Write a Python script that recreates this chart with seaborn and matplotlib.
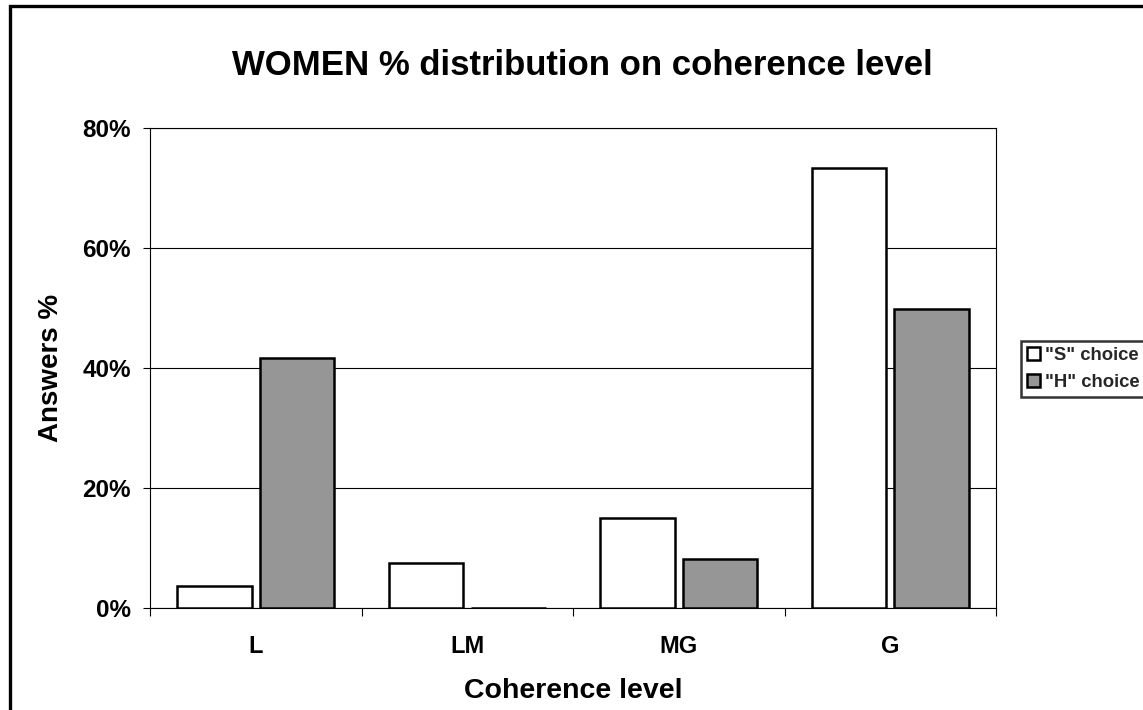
import matplotlib
matplotlib.use("Agg")
import matplotlib.pyplot as plt
from matplotlib.ticker import PercentFormatter, FixedLocator
from matplotlib.patches import Rectangle
import seaborn as sns
import pandas as pd

categories = ["L", "LM", "MG", "G"]
series_names = ['"S" choice', '"H" choice']
s_values = [3.7, 7.5, 15.0, 73.4]
h_values = [41.6, 0.0, 8.2, 49.8]
y_ticks = [0, 20, 40, 60, 80]

sns.set_theme(style="white")
plt.rcParams["font.family"] = ["Liberation Sans", "DejaVu Sans"]
plt.rcParams["font.weight"] = "bold"

df = pd.DataFrame({
    "level": categories * 2,
    "choice": [series_names[0]] * 4 + [series_names[1]] * 4,
    "value": s_values + h_values,
})

W, H = 1143, 710
fig = plt.figure(figsize=(W / 100, H / 100), dpi=100)
fig.patch.set_facecolor("white")
ax = fig.add_axes([150 / W, 1 - 608 / H, (996 - 150) / W, (608 - 128) / H])

sns.barplot(data=df, x="level", y="value", hue="choice", order=categories,
            hue_order=series_names,
            palette={series_names[0]: "white", series_names[1]: "#969696"},
            edgecolor="black", linewidth=1.8, width=0.78, gap=0.1,
            saturation=1, ax=ax, zorder=3)

ax.set_xlim(-0.5, 3.5)
ax.set_ylim(0, 80)
ax.yaxis.set_major_locator(FixedLocator(y_ticks))
ax.yaxis.set_major_formatter(PercentFormatter(100, decimals=0))
ax.grid(axis="y", color="black", linewidth=0.8, zorder=0)
ax.set_axisbelow(True)
for sp in ax.spines.values():
    sp.set_visible(True)
    sp.set_color("black")
    sp.set_linewidth(0.8)

ax.tick_params(axis="y", which="major", direction="out", length=5, width=0.8,
               pad=8.6, labelsize=17.5, colors="black", left=True)
ax.tick_params(axis="x", which="major", length=0, pad=19.5, labelsize=17,
               colors="black")
ax.set_xticks([-0.5, 0.5, 1.5, 2.5, 3.5], minor=True)
ax.tick_params(axis="x", which="minor", direction="out", length=5.8, width=0.8,
               bottom=True, color="black")
for lab in ax.get_xticklabels() + ax.get_yticklabels():
    lab.set_fontweight("bold")

ax.set_xlabel("Coherence level", fontsize=20.5, fontweight="bold", color="black")
ax.set_ylabel("Answers %", fontsize=20, fontweight="bold", color="black")
ax.xaxis.set_label_coords(0.5, -(678 - 608) / 480)
ax.yaxis.set_label_coords(-(150 - 64) / 846, 0.5)

fig.text(582 / W, 1 - 75 / H, "WOMEN % distribution on coherence level",
         ha="center", va="baseline", fontsize=25, fontweight="bold",
         color="black")

handles, labels = ax.get_legend_handles_labels()
if ax.get_legend() is not None:
    ax.get_legend().remove()
leg = fig.legend(handles, labels, loc="center left",
                 bbox_to_anchor=(1021 / W, 1 - 369 / H),
                 bbox_transform=fig.transFigure,
                 frameon=True, fancybox=False, shadow=False,
                 prop={"size": 13.3, "weight": "bold"},
                 handlelength=0.7, handleheight=0.7, handletextpad=0.3,
                 labelspacing=0.55, borderpad=0.32, borderaxespad=0)
leg.get_frame().set_edgecolor("black")
leg.get_frame().set_linewidth(1.8)
for h in leg.legend_handles:
    h.set_edgecolor("black")
    h.set_linewidth(1.8)

fig.patches.append(Rectangle((10 / W, -0.1), 1.2, 0.1 + (1 - 6 / H),
                             transform=fig.transFigure, fill=False,
                             edgecolor="black", linewidth=2.4))

fig.savefig("out.png", dpi=100)
